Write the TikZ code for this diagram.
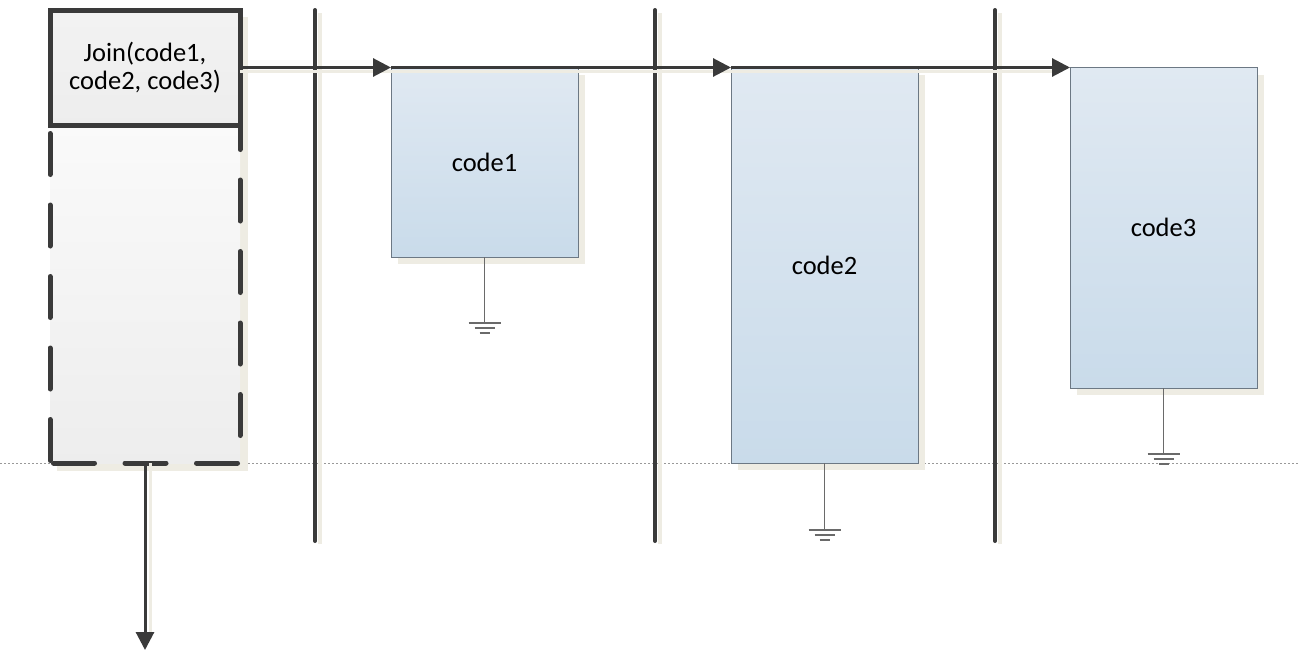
\documentclass[tikz,border=0pt]{standalone}
\usepackage{fontspec}
\setmainfont{Carlito}
\usetikzlibrary{arrows.meta,shadows}

\definecolor{ink}{HTML}{3A3A3A}
\definecolor{shadowtint}{HTML}{EEECE3}
\definecolor{boxtop}{HTML}{E0E9F2}
\definecolor{boxbot}{HTML}{C9DBEA}
\definecolor{boxline}{HTML}{6C7884}
\definecolor{gndline}{HTML}{6A6A6A}

\tikzset{
  txt/.style={font=\fontsize{26.5}{28.5}\selectfont, text=black, align=center},
  joinbox/.style={txt, draw=ink, line width=5pt, outer sep=0pt, inner sep=0pt,
    top color=white!95!black, bottom color=white!93!black,
    anchor=north west, minimum width=190pt, minimum height=115pt},
  holdbox/.style={outer sep=0pt, inner sep=0pt, anchor=north west,
    top color=white!98!black, bottom color=white!93!black,
    minimum width=190pt, minimum height=338pt},
  codebox/.style={txt, draw=boxline, line width=1pt, outer sep=0pt, inner sep=0pt,
    top color=boxtop, bottom color=boxbot, anchor=north west,
    minimum width=187pt,
    drop shadow={shadow xshift=7pt, shadow yshift=-7pt, fill=shadowtint, opacity=1}},
  lane/.style={draw=ink, line width=4pt, line cap=round},
  laneshadow/.style={draw=shadowtint, line width=4pt},
  flow/.style={draw=ink, line width=3pt, -{Triangle[length=18pt,width=18pt]}},
  flowshadow/.style={draw=shadowtint, line width=3pt},
  dashside/.style={draw=ink, line width=5pt, line cap=round, dash pattern=on 41pt off 30.5pt},
  gnd/.style={draw=gndline, line width=1.3pt},
  baseline line/.style={draw=black!40, line width=0.8pt, dash pattern=on 2pt off 2pt},
}

\begin{document}
\begin{tikzpicture}[x=1pt,y=-1pt]
\useasboundingbox (0,0) rectangle (1300,653);

% dotted base line across the whole sheet
\coordinate (bl) at (0,463);
\coordinate (br) at (1300,463);
\draw[baseline line] (bl) -- (br);

% swim-lane separators
\coordinate (l1t) at (315,10);  \coordinate (l1b) at (315,541);
\coordinate (l2t) at (655,10);  \coordinate (l2b) at (655,541);
\coordinate (l3t) at (995,10);  \coordinate (l3b) at (995,541);
\foreach \l in {l1,l2,l3}{
  \draw[laneshadow] ([xshift=5pt,yshift=-3pt]\l t) -- ([xshift=5pt,yshift=-3pt]\l b);
}

% joining task: solid header over a dashed body
\fill[shadowtint] (57,17) rectangle (248,471);
\node[holdbox] (hold) at (50,125) {};
\node[joinbox] (join) at (50,10) {Join(code1,\\code2, code3)};

% dashed sides of the body
\draw[dashside, dash phase=16.5pt] (hold.north east) -- ([yshift=23pt]hold.south east);
\draw[dashside] ([xshift=-2.5pt]hold.south east) -- ([xshift=2.5pt]hold.south west);
\draw[dashside] ([yshift=2.5pt]hold.south west) -- (hold.north west);

% worker tasks
\node[codebox, minimum height=189.5pt] (c1) at (391,67.5) {code1};
\node[codebox, minimum height=395.5pt] (c2) at (731,67.5) {code2};
\node[codebox, minimum height=320.5pt] (c3) at (1070,67.5) {code3};

% lane separators on top of the shadows
\foreach \l in {l1,l2,l3}{
  \draw[lane] (\l t) -- (\l b);
}

% control flow
\draw[flowshadow] ([yshift=-4pt]join.east) -- ([yshift=-4pt,xshift=-18pt]c3.north west);
\draw[flow] (join.east) -- (c1.north west);
\draw[flow] (c1.north west) -- (c2.north west);
\draw[flow] (c2.north west) -- (c3.north west);

\coordinate (out) at (145,650);
\draw[flowshadow] ([xshift=5pt]hold.south) -- ([xshift=5pt,yshift=12pt]out);
\draw[flow] (hold.south) -- (out);

% ground terminators
\draw[gnd] (c1.south) -- ++(0,66) coordinate (g1);
\draw[gnd] (c2.south) -- ++(0,67) coordinate (g2);
\draw[gnd] (c3.south) -- ++(0,66) coordinate (g3);
\foreach \g in {g1,g2,g3}{
  \draw[gnd] ([xshift=-16pt]\g) -- ([xshift=16pt]\g);
  \draw[gnd] ([xshift=-10pt,yshift=-5pt]\g) -- ([xshift=10pt,yshift=-5pt]\g);
  \draw[gnd] ([xshift=-5pt,yshift=-10pt]\g) -- ([xshift=5pt,yshift=-10pt]\g);
}
\end{tikzpicture}
\end{document}
